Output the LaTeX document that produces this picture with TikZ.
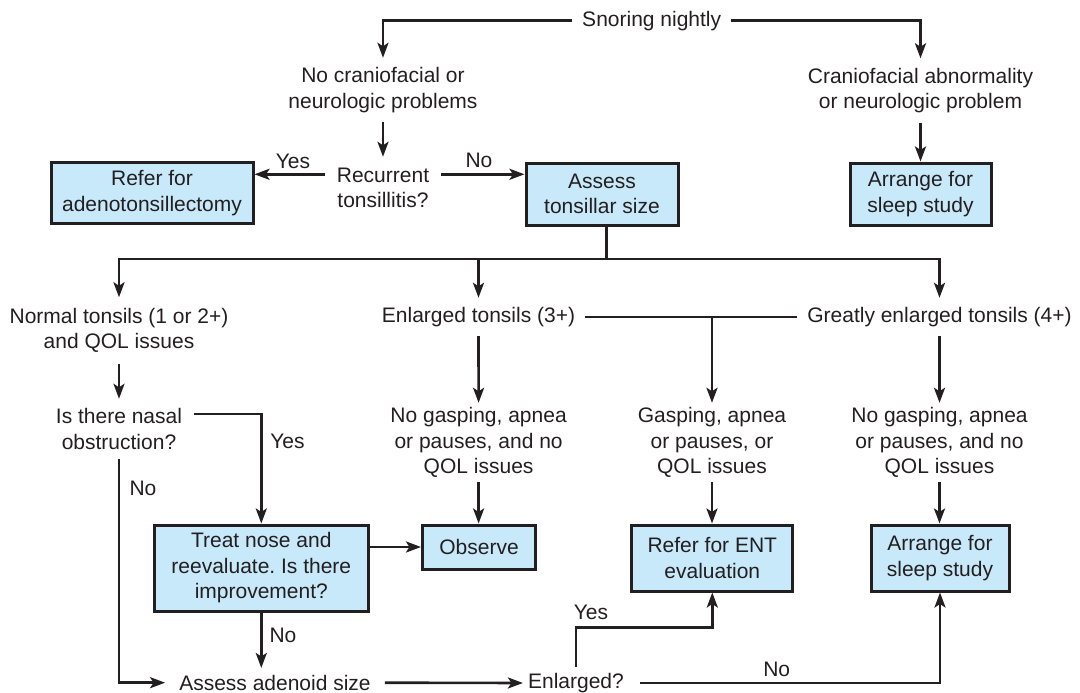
\documentclass[tikz,border=0pt]{standalone}
\usepackage{fontspec}
\setmainfont{Liberation Sans}
\usetikzlibrary{arrows.meta,calc}
\definecolor{ink}{RGB}{35,31,32}
\definecolor{boxblue}{RGB}{199,233,249}
\frenchspacing
\begin{document}
\begin{tikzpicture}[x=1pt,y=-1pt,
  every node/.style={text=ink, font=\fontsize{21}{25.5}\selectfont},
  txt/.style={inner xsep=10pt, inner ysep=0pt, align=center},
  box/.style={draw=ink, line width=3pt, fill=boxblue, align=center, inner sep=0pt},
  conn/.style={draw=ink, line width=2.6pt},
  arr/.style={conn, -{Stealth[length=15pt,width=11pt,inset=3.5pt]}},
  lbl/.style={inner sep=0pt}]
\useasboundingbox (0,0) rectangle (1080,693);

% text nodes
\node[txt, minimum height=1pt] (snore) at (651.7,20.7) {Snoring nightly};
\node[txt, minimum height=64pt] (nocrani) at (383,90) {No craniofacial or\\neurologic problems};
\node[txt, minimum height=64pt] (crani) at (920.5,90.5) {Craniofacial abnormality\\or neurologic problem};
\node[txt, inner xsep=12pt, minimum height=62pt] (recur) at (383,188) {Recurrent\\tonsillitis?};
\node[txt, minimum height=66pt] (normal) at (119,330.5) {Normal tonsils (1 or 2+)\\and QOL issues};
\node[txt, minimum height=38pt] (enl3) at (478.5,317) {Enlarged tonsils (3+)};
\node[txt, minimum height=38pt] (great) at (939.5,317) {Greatly enlarged tonsils (4+)};
\node[txt, inner xsep=12pt, minimum height=60pt] (nasal) at (119,429) {Is there nasal\\obstruction?};
\node[txt, minimum height=79pt] (nogasp) at (478.6,442.5) {No gasping, apnea\\or pauses, and no\\QOL issues};
\node[txt, minimum height=79pt] (gasp) at (712,442.5) {Gasping, apnea\\or pauses, or\\QOL issues};
\node[txt, minimum height=79pt] (nogaspR) at (939.5,442.5) {No gasping, apnea\\or pauses, and no\\QOL issues};
\node[txt, inner xsep=14pt, minimum height=29pt] (adenoid) at (275,682.7) {Assess adenoid size};
\node[txt, inner xsep=5pt, minimum height=32pt] (enlq) at (576,683) {Enlarged?};

% boxes
\node[box, minimum width=202pt, minimum height=61pt] (refer) at (152,193.3) {Refer for\\adenotonsillectomy};
\node[box, minimum width=152pt, minimum height=62pt] (assess) at (602,194) {Assess\\tonsillar size};
\node[box, minimum width=141pt, minimum height=62pt] (sleepA) at (920.5,194) {Arrange for\\sleep study};
\node[box, minimum width=214pt, minimum height=86pt] (treat) at (261.3,568) {Treat nose and\\reevaluate. Is there\\improvement?};
\node[box, minimum width=113pt, minimum height=44pt] (observe) at (479,547) {Observe};
\node[box, minimum width=161pt, minimum height=66pt] (ent) at (712.3,558) {Refer for ENT\\evaluation};
\node[box, minimum width=138pt, minimum height=66pt] (sleepB) at (940,558) {Arrange for\\sleep study};

% labels
\node[lbl] (yes1) at (293,161) {Yes};
\node[lbl] (no1) at (479,160) {No};
\node[lbl] (yes2) at (287.5,441.7) {Yes};
\node[lbl] (no2) at (143,488.3) {No};
\node[lbl] (no3) at (283,635) {No};
\node[lbl] (yes3) at (591,612.7) {Yes};
\node[lbl] (no4) at (776.7,669.3) {No};

% connectors
\draw[arr] (snore.west) -| (nocrani.north);
\draw[arr] (snore.east) -| (crani.north);
\draw[arr] (nocrani.south) -- (recur.north);
\draw[arr] (crani.south) -- (sleepA.north);
\coordinate (ryW) at ([yshift=13.7pt]recur.west);
\coordinate (ryE) at ([yshift=13.7pt]recur.east);
\draw[arr] (ryW) -- (ryW -| refer.east);
\draw[arr] (ryE) -- (ryE -| assess.west);

\coordinate (bus) at (606.5,259);
\draw[conn] (bus |- assess.south) -- (bus);
\draw[arr] (bus) -| (normal.north);
\draw[arr] (bus) -| (great.north);
\draw[arr] (enl3.north |- bus) -- (enl3.north);

\draw[conn] (enl3.east) -- (great.west);
\draw[arr] (enl3.east -| gasp.north) -- (gasp.north);
\draw[arr] (enl3.south) -- (nogasp.north);
\draw[arr] (great.south) -- (nogaspR.north);
\draw[arr] (normal.south) -- (nasal.north);

\coordinate (ny) at ([yshift=15pt]nasal.east);
\draw[arr] (ny) -| (treat.north);
\draw[arr] (nasal.south) |- (adenoid.west);
\draw[arr] (treat.east |- observe.west) -- (observe.west);
\draw[arr] (treat.south) -- (treat.south |- adenoid.north);
\draw[arr] (nogasp.south) -- (nogasp.south |- observe.north);
\draw[arr] (gasp.south) -- (gasp.south |- ent.north);
\draw[arr] (nogaspR.south) -- (nogaspR.south |- sleepB.north);

\draw[arr] (adenoid.east) -- (enlq.west);
\coordinate (yb) at (ent.south |- 0,627.3);
\draw[arr] (enlq.north) |- (yb) -- (ent.south);
\draw[arr] ([xshift=11pt]enlq.east) -| (sleepB.south);
\end{tikzpicture}
\end{document}
